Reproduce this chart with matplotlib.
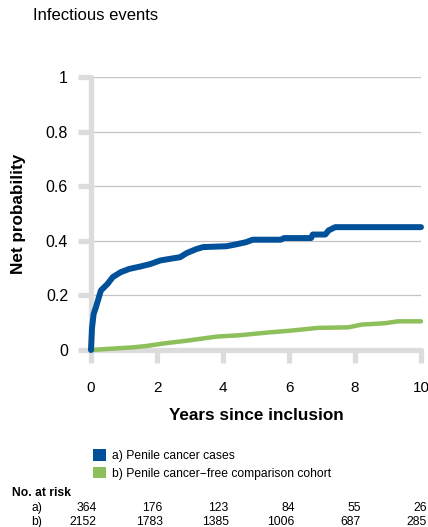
import matplotlib.pyplot as plt
import matplotlib.transforms as mtransforms
from matplotlib.patches import Patch

plt.rcParams["font.family"] = ["Liberation Sans", "DejaVu Sans"]

# cumulative incidence (years, net probability)
years_a = [0.0, 0.03, 0.08, 0.15, 0.3, 0.5, 0.66, 0.9, 1.16, 1.5, 1.8, 2.1,
           2.4, 2.7, 2.9, 3.2, 3.4, 4.1, 4.4, 4.7, 4.9, 5.75, 5.85, 6.67,
           6.72, 7.1, 7.2, 7.4, 10.0]
prob_a = [0.0, 0.08, 0.132, 0.157, 0.218, 0.242, 0.267, 0.285, 0.297, 0.306,
          0.315, 0.328, 0.334, 0.34, 0.355, 0.37, 0.377, 0.38, 0.387, 0.395,
          0.404, 0.404, 0.41, 0.41, 0.423, 0.423, 0.438, 0.45, 0.45]

years_b = [0.0, 1.3, 1.7, 2.2, 2.9, 3.8, 4.5, 5.35, 6.06, 6.87, 7.8, 8.2,
           8.9, 9.3, 10.0]
prob_b = [0.0, 0.01, 0.015, 0.024, 0.034, 0.049, 0.054, 0.064, 0.071, 0.081,
          0.083, 0.093, 0.098, 0.105, 0.105]

risk_years = [0, 2, 4, 6, 8, 10]
at_risk_a = [364, 176, 123, 84, 55, 26]
at_risk_b = [2152, 1783, 1385, 1006, 687, 285]

labels = ["a) Penile cancer cases", "b) Penile cancer\u2212free comparison cohort"]
colors = ["#00509a", "#8dbf5b"]

W, H = 428, 527
fig = plt.figure(figsize=(W / 100, H / 100), dpi=100)
ax = fig.add_axes([91 / W, 1 - 350 / H, (421 - 91) / W, (350 - 77) / H])

axis_grey = "#dcdcdc"
ax.set_xlim(0, 10)
ax.set_ylim(0, 1)
ax.set_xticks(risk_years)
ax.set_yticks([0, 0.2, 0.4, 0.6, 0.8, 1])
ax.set_yticklabels(["0", "0.2", "0.4", "0.6", "0.8", "1"])
ax.grid(True, axis="y", color="#c4c4c4", linewidth=0.9)
ax.set_axisbelow(True)
for side in ["top", "right"]:
    ax.spines[side].set_visible(False)
for side in ["left", "bottom"]:
    ax.spines[side].set_color(axis_grey)
    ax.spines[side].set_linewidth(3.8)
    ax.spines[side].set_capstyle("round")
ax.tick_params(axis="y", length=9.5, width=3.8, color=axis_grey, pad=7,
               labelsize=11.5)
ax.tick_params(axis="x", length=9, width=3.8, color=axis_grey, pad=13,
               labelsize=11)

ax.plot(years_b, prob_b, color=colors[1], linewidth=3.2,
        solid_capstyle="round", solid_joinstyle="round", clip_on=False,
        zorder=3)
ax.plot(years_a, prob_a, color=colors[0], linewidth=4.3,
        solid_capstyle="round", solid_joinstyle="round", clip_on=False,
        zorder=4)

ax.set_xlabel("Years since inclusion", fontsize=12.3, fontweight="bold",
              labelpad=10)
ax.set_ylabel("Net probability", fontsize=12.3, fontweight="bold",
              labelpad=14)

fig.text(33 / W, 1 - 15 / H, "Infectious events", fontsize=12,
         va="center", ha="left")

handles = [Patch(facecolor=c, edgecolor="none") for c in colors]
fig.legend(handles, labels, loc="upper left",
           bbox_to_anchor=(93 / W, 1 - 449 / H), frameon=False,
           fontsize=8.7, handlelength=1.1, handleheight=1.1,
           handletextpad=0.45, labelspacing=0.4, borderaxespad=0,
           borderpad=0)

# number at risk table
trans = mtransforms.blended_transform_factory(ax.transData, fig.transFigure)
fig.text(12 / W, 1 - 493 / H, "No. at risk", fontsize=8.7, fontweight="bold",
         va="center")
for row, (name, counts) in enumerate([("a)", at_risk_a), ("b)", at_risk_b)]):
    y = 1 - (508 + 14 * row) / H
    fig.text(42 / W, y, name, fontsize=8.7, ha="right", va="center")
    for xv, n in zip(risk_years, counts):
        ax.text(xv + 0.17, y, str(n), transform=trans, fontsize=8.7,
                ha="right", va="center", clip_on=False)

fig.savefig("out.png", dpi=100)
